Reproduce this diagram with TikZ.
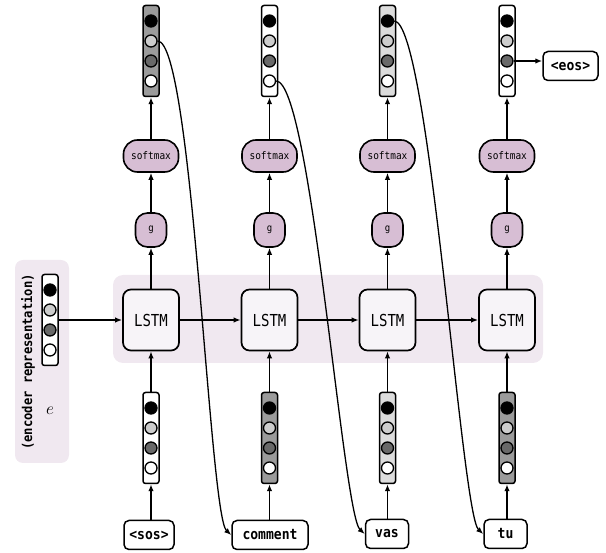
\documentclass[tikz,border=0pt]{standalone}
\usepackage{fontspec}
\usetikzlibrary{arrows.meta,calc}
\newfontfamily\monof[FakeStretch=0.85]{DejaVu Sans Mono}
\newfontfamily\monos[FakeStretch=0.9]{DejaVu Sans Mono}
\definecolor{band}{RGB}{240,232,240}
\definecolor{lilac}{RGB}{215,190,212}
\definecolor{lstmfill}{RGB}{247,244,248}
\definecolor{midgray}{RGB}{155,155,155}
\definecolor{lightgray2}{RGB}{220,220,220}
\definecolor{ctwo}{RGB}{205,205,205}
\definecolor{cthree}{RGB}{105,105,105}
\tikzset{
  vecbox/.style={draw, line width=1.5pt, rounded corners=2.5pt, minimum width=16pt, minimum height=91pt, inner sep=0pt},
  dot/.style={circle, draw, line width=1.3pt, minimum size=12pt, inner sep=0pt},
  lstm/.style={draw, line width=1.7pt, rounded corners=8pt, fill=lstmfill, minimum width=56pt, minimum height=61pt, inner sep=0pt, font=\monof\fontsize{16.5}{16.5}\selectfont},
  smax/.style={draw, line width=1.6pt, rounded corners=14pt, fill=lilac, minimum width=55pt, minimum height=32pt, inner sep=0pt, font=\monos\fontsize{10.5}{10.5}\selectfont},
  gnode/.style={draw, line width=1.6pt, rounded corners=12pt, fill=lilac, minimum width=31pt, minimum height=34pt, inner sep=0pt, font=\monos\fontsize{10}{10}\selectfont},
  word/.style={draw, line width=1.5pt, rounded corners=5pt, fill=white, minimum width=43pt, minimum height=29pt, inner xsep=5pt, inner ysep=0pt, font=\monos\bfseries\fontsize{14.5}{14.5}\selectfont},
  arr/.style={line width=1.5pt, -{Latex[length=7pt,width=5.5pt]}},
  curvearr/.style={line width=1.3pt, -{Latex[length=7pt,width=5.5pt]}},
}
\newcommand\onehot[3]{%
  \node[vecbox, fill=#3] (#1) at (#2) {};
  \node[dot, fill=black] (#1-1) at ($(#1)+(0,-30)$) {};
  \node[dot, fill=ctwo] (#1-2) at ($(#1)+(0,-10)$) {};
  \node[dot, fill=cthree] (#1-3) at ($(#1)+(0,10)$) {};
  \node[dot, fill=white] (#1-4) at ($(#1)+(0,30)$) {};
}
\begin{document}
\begin{tikzpicture}[x=1pt,y=-1pt]
\useasboundingbox (0,0) rectangle (606,553);
% backgrounds
\fill[band, rounded corners=10pt] (113,275) rectangle (543,363);
\fill[band, rounded corners=8pt] (15,260) rectangle (69,463);
% encoder
\node[rotate=90, font=\monos\bfseries\fontsize{13.5}{13.5}\selectfont, inner sep=0pt] (enclabel) at (28,362) {(encoder representation)};
\node[font=\fontsize{18}{18}\selectfont, inner sep=0pt] (elabel) at (50,411) {$e$};
\onehot{enc}{50,320}{white}
% LSTMs
\node[lstm] (l1) at (151,320) {LSTM};
\node[lstm] (l2) at (269.5,320) {LSTM};
\node[lstm] (l3) at (387.5,320) {LSTM};
\node[lstm] (l4) at (507,320) {LSTM};
% g nodes
\node[gnode] (g1) at (151,230) {g};
\node[gnode] (g2) at (269.5,230) {g};
\node[gnode] (g3) at (387.5,230) {g};
\node[gnode] (g4) at (507,230) {g};
% softmax
\node[smax] (s1) at (151,156) {softmax};
\node[smax] (s2) at (269.5,156) {softmax};
\node[smax] (s3) at (387.5,156) {softmax};
\node[smax] (s4) at (507,156) {softmax};
% top vectors
\onehot{t1}{151,51}{midgray}
\onehot{t2}{269.5,51}{white}
\onehot{t3}{387.5,51}{lightgray2}
\onehot{t4}{507,51}{white}
% bottom vectors
\onehot{b1}{151,438}{white}
\onehot{b2}{269.5,438}{midgray}
\onehot{b3}{387.5,438}{lightgray2}
\onehot{b4}{507,438}{midgray}
% words
\node[word, minimum width=50pt] (w1) at (149,535) {<sos>};
\node[word, minimum width=76pt] (w2) at (270,535) {comment};
\node[word] (w3) at (387,534) {vas};
\node[word] (w4) at (505.5,534) {tu};
\node[word, minimum width=55pt] (eos) at (570.5,66) {<eos>};
% vertical connectors
\foreach \i in {1,2,3,4}{
  \draw[arr] (w\i.north -| b\i.south) -- (b\i.south);
  \draw[arr] (b\i.north) -- (l\i.south);
  \draw[arr] (l\i.north) -- (g\i.south);
  \draw[arr] (g\i.north) -- (s\i.south);
  \draw[arr] (s\i.north) -- (t\i.south);
}
% recurrent connectors
\draw[arr] (enc.east) -- (l1.west);
\draw[arr] (l1.east) -- (l2.west);
\draw[arr] (l2.east) -- (l3.west);
\draw[arr] (l3.east) -- (l4.west);
% feedback curves
\draw[curvearr] (t1-2.east) .. controls +(35,0) and +(-22,-20) .. (w2.west);
\draw[curvearr] (t2-4.east) .. controls +(35,0) and +(-22,-20) .. (w3.west);
\draw[curvearr] (t3-1.east) .. controls +(35,0) and +(-22,-20) .. (w4.west);
\draw[arr] (t4-3.east) -- (t4-3.east -| eos.west);
\end{tikzpicture}
\end{document}
